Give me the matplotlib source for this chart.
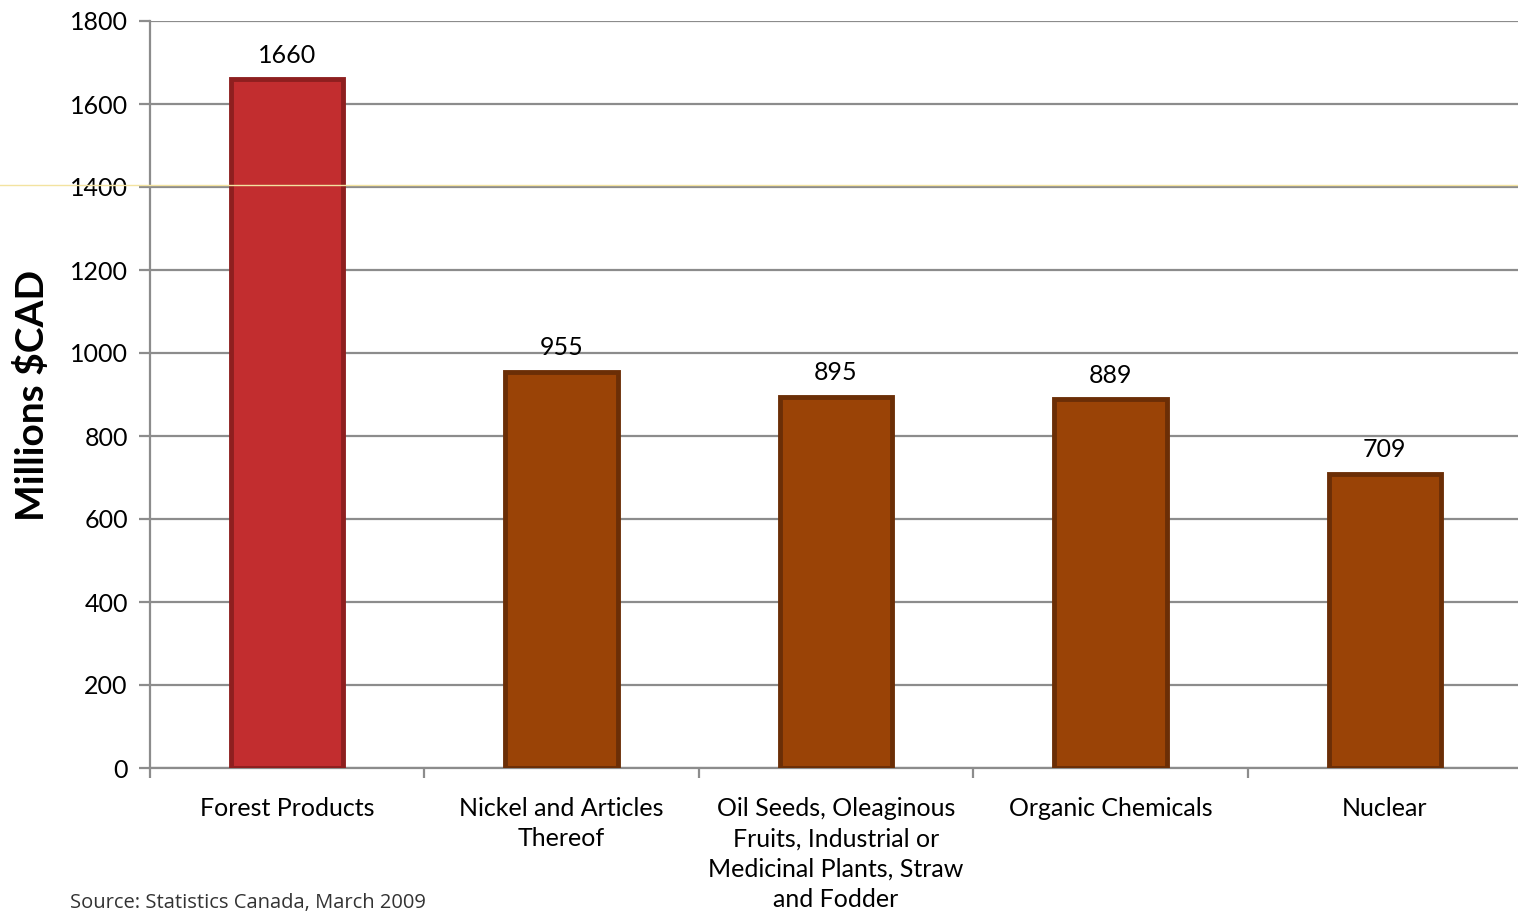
import matplotlib
matplotlib.use("Agg")
import matplotlib.pyplot as plt
from matplotlib.lines import Line2D

plt.rcParams['font.family'] = ['Lato', 'DejaVu Sans']

categories = [
    "Forest Products",
    "Nickel and Articles\nThereof",
    "Oil Seeds, Oleaginous\nFruits, Industrial or\nMedicinal Plants, Straw\nand Fodder",
    "Organic Chemicals",
    "Nuclear",
]
values = [1660, 955, 895, 889, 709]
y_ticks = [0, 200, 400, 600, 800, 1000, 1200, 1400, 1600, 1800]

face_colors = ["#C22D2F", "#9A4306", "#9A4306", "#9A4306", "#9A4306"]
edge_colors = ["#8E1F1F", "#6B2E06", "#6B2E06", "#6B2E06", "#6B2E06"]

fig = plt.figure(figsize=(15.18, 9.15), dpi=100)
ax = fig.add_axes([150 / 1518, 1 - 768 / 915, 1372 / 1518, (768 - 21) / 915])

x = list(range(len(categories)))
bars = ax.bar(x, values, width=0.41, color=face_colors, edgecolor=edge_colors,
              linewidth=3.5, zorder=3)

for xi, v in zip(x, values):
    ax.annotate(str(v), (xi, v), xytext=(0, 9), textcoords="offset points",
                ha="center", va="bottom", fontsize=18, color="black")

ax.set_xlim(-0.5, 4.5)
ax.set_ylim(0, 1800)
ax.set_yticks(y_ticks)
ax.set_yticklabels([str(t) for t in y_ticks], fontsize=18)
ax.yaxis.grid(True, color="#8C8C8C", linewidth=1.6, zorder=0)
ax.set_axisbelow(True)

ax.set_xticks(x)
ax.set_xticklabels(categories, fontsize=18, linespacing=1.38)
ax.tick_params(axis="x", length=0, pad=21)
ax.set_xticks([i - 0.5 for i in range(len(categories) + 1)], minor=True)
ax.tick_params(axis="x", which="minor", length=7, width=1.6, color="#8C8C8C")
ax.tick_params(axis="y", length=8, width=1.6, color="#8C8C8C", pad=8)

for side in ["top", "right"]:
    ax.spines[side].set_visible(False)
for side in ["left", "bottom"]:
    ax.spines[side].set_color("#8C8C8C")
    ax.spines[side].set_linewidth(1.6)

fig.text(32 / 1518, 1 - 395 / 915, "Millions $CAD", rotation=90, ha="center",
         va="center", fontsize=28, fontweight="bold")

fig.text(70 / 1518, 1 - 903 / 915, "Source: Statistics Canada, March 2009",
         ha="left", va="center", fontsize=14.5, color="#333333",
         family=["Open Sans", "DejaVu Sans"])

# thin highlight rule running across the whole figure
fig.add_artist(Line2D([0, 1], [1 - 185 / 915, 1 - 185 / 915],
                      transform=fig.transFigure, color="#F3E3A0",
                      linewidth=1.0, zorder=10))

fig.savefig("out.png", dpi=100)
